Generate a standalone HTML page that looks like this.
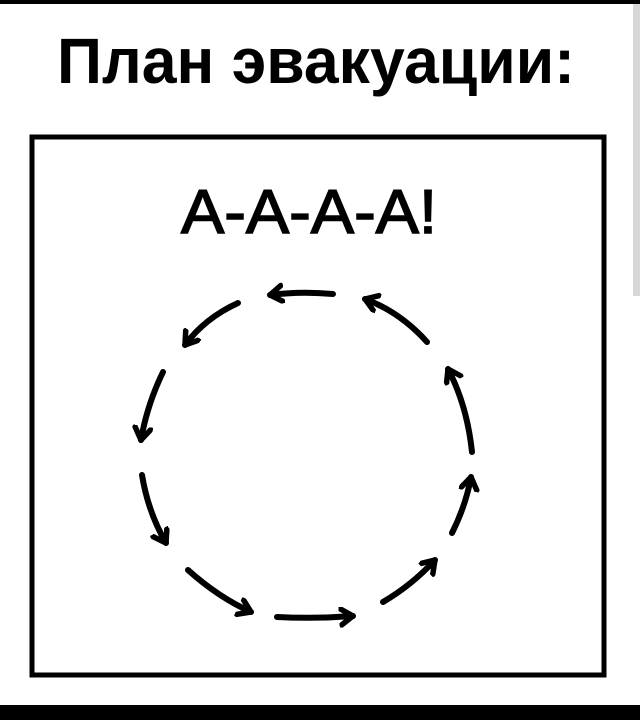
<!DOCTYPE html>
<html><head><meta charset="utf-8"><style>
html,body{margin:0;padding:0;background:#fff;}
svg{display:block}
</style></head><body>
<svg width="640" height="720" viewBox="0 0 640 720" xmlns="http://www.w3.org/2000/svg">
<defs>
<marker id="h" markerUnits="userSpaceOnUse" markerWidth="24" markerHeight="24" refX="14" refY="10" orient="auto">
<path d="M2,2 L14,10 L2,18" fill="none" stroke="#000" stroke-width="5.5" stroke-linecap="round" stroke-linejoin="round"/>
</marker>
</defs>
<rect x="0" y="0" width="640" height="720" fill="#fff"/>
<rect x="0" y="0" width="640" height="4" fill="#000"/>
<rect x="0" y="705" width="640" height="15" fill="#000"/>
<rect x="633" y="4" width="7" height="292" fill="#d8d8d8"/>
<text x="57" y="83" font-family="Liberation Sans, sans-serif" font-weight="bold" font-size="64" textLength="518" lengthAdjust="spacingAndGlyphs">План эвакуации:</text>
<rect x="32" y="137" width="572" height="538" fill="none" stroke="#000" stroke-width="5"/>
<text x="181" y="233" font-family="Liberation Sans, sans-serif" font-size="62" stroke="#000" stroke-width="1.5" textLength="256" lengthAdjust="spacingAndGlyphs">А-А-А-А!</text>
<g fill="none" stroke="#000" stroke-width="6" stroke-linecap="round" marker-end="url(#h)">
<path d="M333 294 Q300 291 270 295"/>
<path d="M238 303 Q205 318 185 345"/>
<path d="M163 372 Q147 405 141 440"/>
<path d="M142 475 Q148 512 166 543"/>
<path d="M188 570 Q218 597 251 612"/>
<path d="M277 617 Q315 619 353 616"/>
<path d="M383 602 Q412 585 435 560"/>
<path d="M452 533 Q466 505 471 477"/>
<path d="M472 452 Q467 405 448 369"/>
<path d="M427 342 Q400 312 365 299"/>
</g>
</svg>
</body></html>
